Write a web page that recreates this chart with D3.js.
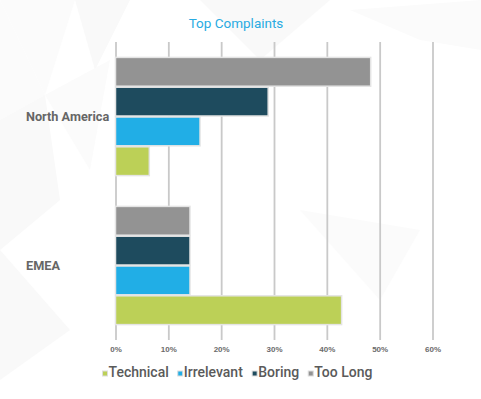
<!DOCTYPE html>
<html>
<head>
<meta charset="utf-8">
<script src="https://cdn.jsdelivr.net/npm/d3@7"></script>
<style>
  html, body { margin: 0; padding: 0; background: #fff; }
  svg { display: block; font-family: Roboto, "Noto Sans", sans-serif; }
</style>
</head>
<body>
<div id="chart"></div>
<script>
// Data
const regions = ['North America', 'EMEA'];
const series = ['Too Long', 'Boring', 'Irrelevant', 'Technical'];
const legendOrder = ['Technical', 'Irrelevant', 'Boring', 'Too Long'];
const tooLong = [0.483, 0.141];
const boring = [0.289, 0.141];
const irrelevant = [0.160, 0.141];
const technical = [0.064, 0.428];
const xTicks = [0, 0.1, 0.2, 0.3, 0.4, 0.5, 0.6];

const colors = {
  'Too Long': '#939393',
  'Boring': '#1e4b5e',
  'Irrelevant': '#21aee6',
  'Technical': '#bcd057'
};

const valuesBySeries = {
  'Too Long': tooLong,
  'Boring': boring,
  'Irrelevant': irrelevant,
  'Technical': technical
};

const width = 481, height = 399;
const plot = { left: 115.5, right: 432.5, top: 42, bottom: 340 };

const svg = d3.select('#chart').append('svg')
  .attr('width', width)
  .attr('height', height);

// Faint low-poly background
const bgPolys = [
  [[0, 0], [75, 0], [45, 95]],
  [[75, 0], [130, 0], [95, 70]],
  [[0, 0], [45, 95], [0, 120]],
  [[0, 120], [45, 95], [60, 200], [0, 250]],
  [[45, 95], [110, 60], [90, 170]],
  [[200, 0], [330, 0], [260, 60]],
  [[350, 10], [481, 0], [481, 50], [420, 40]],
  [[0, 250], [70, 330], [0, 380]],
  [[300, 210], [420, 230], [380, 300]]
];
svg.append('g').attr('class', 'bg')
  .selectAll('polygon')
  .data(bgPolys)
  .join('polygon')
  .attr('points', d => d.map(p => p.join(',')).join(' '))
  .attr('fill', (d, i) => i % 2 ? '#f9f9f9' : '#fbfbfb');

// Scales
const x = d3.scaleLinear().domain([0, 0.6]).range([plot.left, plot.right]);
const y = d3.scaleBand().domain(regions).range([plot.top, plot.bottom])
  .paddingInner(0.2).paddingOuter(0.1);
const yInner = d3.scaleBand().domain(series).range([0, y.bandwidth()]).padding(0);

// Grid + axis
const axis = svg.append('g')
  .attr('transform', `translate(0,${plot.bottom})`)
  .call(d3.axisBottom(x)
    .tickValues(xTicks)
    .tickFormat(d3.format('.0%'))
    .tickSize(-(plot.bottom - plot.top))
    .tickPadding(6));
axis.select('.domain').remove();
axis.selectAll('.tick line')
  .attr('stroke', '#c9c9c9')
  .attr('stroke-width', 1.8);
axis.selectAll('.tick text')
  .attr('fill', '#6b6b6b')
  .attr('font-size', 8)
  .attr('font-weight', 'bold');

// Bars
const groups = svg.append('g')
  .selectAll('g')
  .data(regions)
  .join('g')
  .attr('transform', d => `translate(0,${y(d)})`);

groups.selectAll('rect')
  .data((r, ri) => series.map(s => ({ series: s, value: valuesBySeries[s][ri] })))
  .join('rect')
  .attr('x', x(0))
  .attr('y', d => yInner(d.series) + 0.5)
  .attr('width', d => x(d.value) - x(0))
  .attr('height', yInner.bandwidth() - 1)
  .attr('fill', d => colors[d.series])
  .attr('stroke', '#e4e4e4')
  .attr('stroke-width', 1.5);

// Category labels
svg.append('g')
  .selectAll('text')
  .data(regions)
  .join('text')
  .attr('x', 26)
  .attr('y', d => y(d) + y.bandwidth() / 2 + 4.5)
  .attr('fill', '#666')
  .attr('font-size', 12.7)
  .attr('font-weight', 'bold')
  .text(d => d);

// Title
svg.append('text')
  .attr('x', 236)
  .attr('y', 28)
  .attr('text-anchor', 'middle')
  .attr('fill', '#29abe2')
  .attr('font-size', 13.5)
  .text('Top Complaints');

// Legend
const legend = svg.append('g');
const items = legend.selectAll('g')
  .data(legendOrder)
  .join('g');
items.append('rect')
  .attr('x', 0)
  .attr('y', -6)
  .attr('width', 5)
  .attr('height', 5)
  .attr('fill', d => colors[d])
  .attr('stroke', '#ddd')
  .attr('stroke-width', 1);
items.append('text')
  .attr('x', 6)
  .attr('y', 0)
  .attr('fill', '#5a5a5a')
  .attr('font-size', 14)
  .attr('font-weight', 500)
  .text(d => d);

const gap = 9;
let offset = 0;
items.each(function () {
  const w = this.getBBox().width;
  d3.select(this).attr('data-x', offset);
  offset += w + gap;
});
const total = offset - gap;
const start = 237.5 - total / 2;
items.attr('transform', function () {
  return `translate(${start + +this.getAttribute('data-x')},377)`;
});
</script>
</body>
</html>
